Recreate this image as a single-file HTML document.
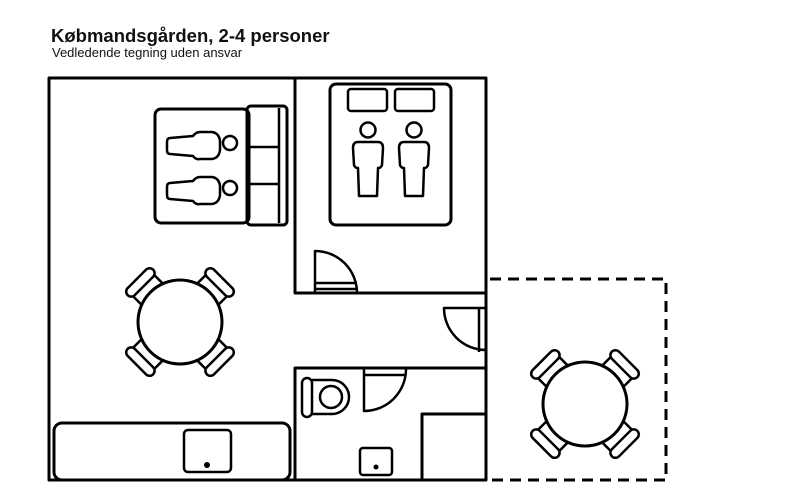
<!DOCTYPE html>
<html><head><meta charset="utf-8"><style>
html,body{margin:0;padding:0;background:#fff;}
body{width:804px;height:500px;overflow:hidden;position:relative;font-family:"Liberation Sans",sans-serif;}
.t{position:absolute;left:51px;top:25px;font-weight:bold;font-size:18.5px;color:#111;}
.s{position:absolute;left:52px;top:45px;font-size:13px;color:#111;}
</style></head><body>
<div class="t">Købmandsgården, 2-4 personer</div>
<div class="s">Vedledende tegning uden ansvar</div>
<svg width="804" height="500" style="position:absolute;left:0;top:0" fill="none" stroke="#000" stroke-width="3" stroke-linejoin="round">
<defs>
<g id="chair">
<rect x="36" y="-15" width="17" height="30" fill="#fff" stroke-width="2.5"/>
<rect x="51" y="-18" width="10" height="36" rx="5" fill="#fff" stroke-width="2.5"/>
</g>
<g id="table">
<use href="#chair" transform="rotate(-45)"/>
<use href="#chair" transform="rotate(45)"/>
<use href="#chair" transform="rotate(135)"/>
<use href="#chair" transform="rotate(-135)"/>
<circle r="42" fill="#fff" stroke-width="3"/>
</g>
<g id="person" stroke-width="2.5" fill="#fff">
<circle cx="0" cy="-12" r="7.5"/>
<path d="M-10 0 Q-15 0 -15 6 L-14 23 Q-13 26 -10 26 L-9 54 L9 54 L10 26 Q13 26 14 23 L15 6 Q15 0 10 0 Z"/>
</g>
</defs>
<path d="M49 78 H486 V480 H49 Z"/>
<path d="M295 78 V293 H486"/>
<path d="M486 368 H295 V480"/>
<path d="M490 279 H666 V480 H490" stroke-dasharray="11 7"/>
<rect x="330" y="84" width="121" height="141" rx="6"/>
<rect x="348" y="89" width="39" height="22" rx="3" stroke-width="2.5"/>
<rect x="395" y="89" width="39" height="22" rx="3" stroke-width="2.5"/>
<use href="#person" transform="translate(368,142)"/>
<use href="#person" transform="translate(414,142)"/>
<rect x="155" y="109" width="94" height="114" rx="6"/>
<rect x="247" y="106" width="40" height="119" rx="4"/>
<path d="M279 108 V223 M249 147 H279 M249 184 H279" stroke-width="2.5"/>
<g stroke-width="2.5" fill="#fff">
<path d="M170 138 Q167 138 167 142 V150 Q167 154 170 154 L193 156 Q196 160 200 159 H212 Q219 158 220 150 V141 Q219 133 212 132 H200 Q196 132 193 136 Z"/>
<circle cx="230" cy="143" r="7"/>
<path d="M170 183 Q167 183 167 187 V195 Q167 199 170 199 L193 201 Q196 205 200 204 H212 Q219 203 220 195 V186 Q219 178 212 177 H200 Q196 177 193 181 Z"/>
<circle cx="230" cy="188" r="7"/>
</g>
<path d="M315 293 V251 A42 42 0 0 1 357 293" stroke-width="2.5"/>
<path d="M315 283 H357 M315 289 H357" stroke-width="2.5"/>
<path d="M486 308 H444 A42 42 0 0 0 486 350" stroke-width="2.5"/>
<path d="M479 308 V352" stroke-width="2.5"/>
<path d="M364 369 V411 A42 42 0 0 0 406 369" stroke-width="2.5"/>
<path d="M364 375 H406" stroke-width="2.5"/>
<rect x="302" y="378" width="10" height="39" rx="5" stroke-width="2.5"/>
<path d="M312 380 H332 A17 17 0 0 1 332 414 H312" stroke-width="2.5"/>
<circle cx="331" cy="397" r="11" stroke-width="2.5"/>
<path d="M486 414 H422 V480" />
<rect x="360" y="448" width="32" height="27" rx="3" stroke-width="2.5"/>
<circle cx="376" cy="467" r="2.5" fill="#000" stroke="none"/>
<rect x="54" y="423" width="236" height="57" rx="8" />
<rect x="184" y="430" width="47" height="42" rx="4" stroke-width="2.5"/>
<circle cx="207" cy="465" r="3" fill="#000" stroke="none"/>
<use href="#table" transform="translate(180,322)"/>
<use href="#table" transform="translate(585,404)"/>
</svg>
</body></html>
